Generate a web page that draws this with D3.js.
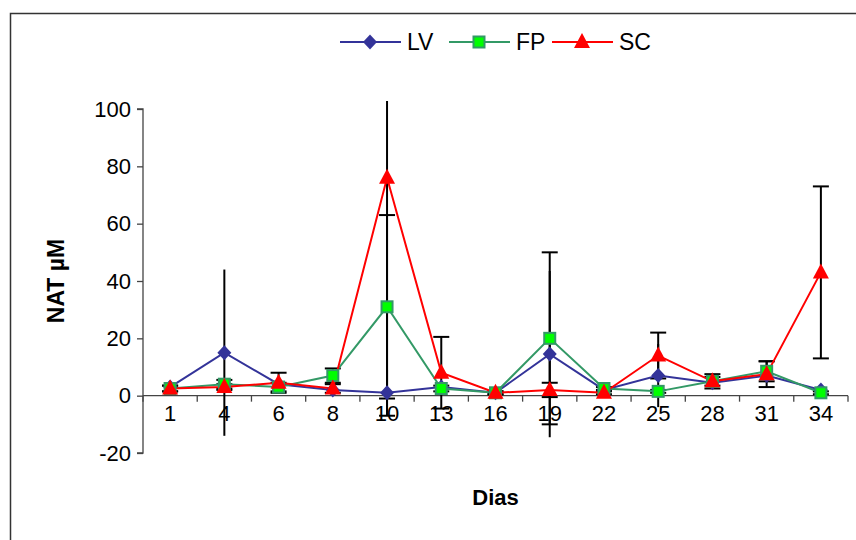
<!DOCTYPE html>
<html><head><meta charset="utf-8">
<script src="https://cdn.jsdelivr.net/npm/d3@7"></script>
<style>body{margin:0;background:#fff}svg{display:block}text{font-family:"Liberation Sans",Arial,sans-serif}</style>
</head><body>
<svg id="c" width="856" height="540"></svg>
<script>
const days = ["1","4","6","8","10","13","16","19","22","25","28","31","34"];
const lvValues = [3, 15, 4, 2, 1, 3, 1, 14.5, 2, 7, 4.5, 7, 2];
const lvErrors = [1, 29, 1, 1, 8, 1, 0.5, 29, 0.5, 11, 1, 2, 0.5];
const fpValues = [2.5, 4, 3, 7, 31, 2.5, 1, 20, 2.5, 1.5, 5, 8.5, 1];
const fpErrors = [1, 1.5, 1.5, 2.5, 32, 1, 0.5, 30, 0.5, 0.5, 1.5, 3.5, 0.5];
const scValues = [2.5, 3, 4.5, 2.5, 76, 8, 1, 2, 1, 14, 5, 7.5, 43];
const scErrors = [1, 1, 3.5, 1.5, 83, 12.5, 0.5, 2.5, 0.5, 8, 2.5, 4.5, 30];
const yTicks = [-20, 0, 20, 40, 60, 80, 100];

const series = [
  {name:"LV", values:lvValues, errors:lvErrors, caps:false, line:"#333399", fill:"#333399", stroke:"#333399", shape:"diamond"},
  {name:"FP", values:fpValues, errors:fpErrors, caps:true, line:"#339966", fill:"#00ff00", stroke:"#339966", shape:"square"},
  {name:"SC", values:scValues, errors:scErrors, caps:true, line:"#ff0000", fill:"#ff0000", stroke:"#ff0000", shape:"triangle"}
];

const svg = d3.select("#c");
const pLeft = 143, pRight = 848, pTop = 109, pBottom = 453;
const x = d3.scaleBand().domain(days).range([pLeft, pRight]);
const y = d3.scaleLinear().domain([-20, 100]).range([pBottom, pTop]);
const cx = d => x(d) + x.bandwidth() / 2;
const FONT = '"Liberation Sans",Arial,sans-serif';

// outer border
svg.append("rect").attr("x", 10.5).attr("y", 13.5).attr("width", 900).attr("height", 600)
  .attr("fill", "none").attr("stroke", "#333").attr("stroke-width", 1.5);

svg.append("defs").append("clipPath").attr("id", "pa")
  .append("rect").attr("x", pLeft - 20).attr("y", 101).attr("width", pRight - pLeft + 40).attr("height", 460);

// y axis
const yAxis = svg.append("g").attr("transform", `translate(${pLeft},0)`)
  .call(d3.axisLeft(y).tickValues(yTicks).tickSize(6).tickPadding(6).tickFormat(d => String(d)));
yAxis.select(".domain").attr("stroke", "#444").attr("stroke-width", 1.3).attr("d", `M-6,${y(100)}H0V${y(-20)}H-6`);
yAxis.selectAll(".tick line").attr("stroke", "#444").attr("stroke-width", 1.3);
yAxis.selectAll("text").attr("font-size", 22).attr("fill", "#000").style("font-family", FONT);

// x axis at y=0
const xAxis = svg.append("g").attr("transform", `translate(0,${y(0)})`)
  .call(d3.axisBottom(x).tickSize(0).tickPadding(10));
xAxis.select(".domain").attr("stroke", "#444").attr("stroke-width", 1.3).attr("d", `M${pLeft},0H${pRight}`);
xAxis.selectAll("text").attr("font-size", 22).attr("fill", "#000").attr("y", 25).attr("dy", 0).style("font-family", FONT);
const bounds = days.map(d => x(d)).concat([pRight]);
svg.append("g").selectAll("line").data(bounds).join("line")
  .attr("x1", d => d).attr("x2", d => d).attr("y1", y(0)).attr("y2", y(0) + 6)
  .attr("stroke", "#444").attr("stroke-width", 1.3);

// error bars
const eg = svg.append("g").attr("clip-path", "url(#pa)");
series.forEach(s => {
  days.forEach((d, i) => {
    const v = s.values[i], e = s.errors[i], X = cx(d);
    eg.append("line").attr("x1", X).attr("x2", X).attr("y1", y(v + e)).attr("y2", y(v - e))
      .attr("stroke", "#000").attr("stroke-width", 2);
    if (s.caps) {
      [v + e, v - e].forEach(t => {
        eg.append("line").attr("x1", X - 8).attr("x2", X + 8).attr("y1", y(t)).attr("y2", y(t))
          .attr("stroke", "#000").attr("stroke-width", 2);
      });
    }
  });
});

// lines
const lineGen = d3.line().x((v, i) => cx(days[i])).y(v => y(v));
series.forEach(s => {
  svg.append("path").datum(s.values).attr("d", lineGen).attr("fill", "none")
    .attr("stroke", s.line).attr("stroke-width", 2);
});

function marker(g, s, X, Y) {
  if (s.shape === "diamond") {
    g.append("path").attr("d", `M${X},${Y-7.5}L${X+7},${Y}L${X},${Y+7.5}L${X-7},${Y}Z`).attr("fill", s.fill);
  } else if (s.shape === "square") {
    g.append("rect").attr("x", X - 5.5).attr("y", Y - 5.5).attr("width", 11).attr("height", 11)
      .attr("fill", s.fill).attr("stroke", s.stroke).attr("stroke-width", 2);
  } else {
    g.append("path").attr("d", `M${X},${Y-9}L${X+8},${Y+6}L${X-8},${Y+6}Z`).attr("fill", s.fill);
  }
}
series.forEach(s => {
  const g = svg.append("g");
  days.forEach((d, i) => marker(g, s, cx(d), y(s.values[i])));
});

// legend
const legX = [340, 449, 552];
series.forEach((s, i) => {
  const g = svg.append("g");
  const x0 = legX[i];
  g.append("line").attr("x1", x0).attr("x2", x0 + 61).attr("y1", 42).attr("y2", 42)
    .attr("stroke", s.line).attr("stroke-width", 2);
  marker(g, s, x0 + 30, 42);
  g.append("text").attr("x", x0 + 67).attr("y", 50).attr("font-size", 23).text(s.name);
});

// axis titles
svg.append("text").attr("transform", `translate(64,${(y(100)+y(-20))/2}) rotate(-90)`)
  .attr("text-anchor", "middle").attr("font-size", 23).attr("font-weight", "bold").text("NAT µM");
svg.append("text").attr("x", (pLeft + pRight) / 2).attr("y", 505)
  .attr("text-anchor", "middle").attr("font-size", 22).attr("font-weight", "bold").text("Dias");
</script>
</body></html>
